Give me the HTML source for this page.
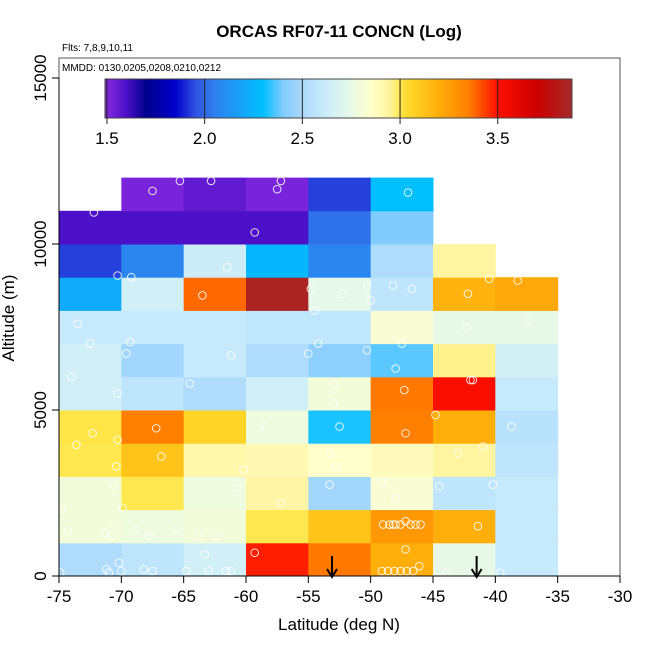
<!DOCTYPE html>
<html><head><meta charset="utf-8"><style>
html,body{margin:0;padding:0;background:#fff;}
svg{display:block;font-family:"Liberation Sans",Arial,sans-serif;}
</style></head><body>
<svg id="chart" width="650" height="650" viewBox="0 0 650 650">
<defs>
<linearGradient id="cbgrad" x1="0" x2="1" y1="0" y2="0"></linearGradient>
</defs>
<text x="339" y="37" text-anchor="middle" font-size="17" font-weight="bold">ORCAS RF07-11 CONCN (Log)</text>
<text x="62" y="51" font-size="10">Flts: 7,8,9,10,11</text>
<g id="cells"></g>
<g id="points"></g>
<g id="arrows"></g>
<rect x="59" y="58" width="561" height="518" fill="none" stroke="#555" stroke-width="1"/>
<text x="62" y="71" font-size="10">MMDD: 0130,0205,0208,0210,0212</text>
<g id="colorbar"></g>
<g id="xaxis"></g>
<g id="yaxis"></g>
<text x="339" y="630" text-anchor="middle" font-size="17">Latitude (deg N)</text>
<text x="0" y="0" transform="translate(14,318) rotate(-90)" text-anchor="middle" font-size="17">Altitude (m)</text>
</svg>
<script>
const latBins = [-75,-70,-65,-60,-55,-50,-45,-40];
const altBins = [0,1000,2000,3000,4000,5000,6000,7000,8000,9000,10000,11000];
const row0 = [2.52,2.57,2.65,3.48,3.36,3.2,2.75,2.6];
const row1 = [2.8,2.78,2.8,3.0,3.12,3.27,3.2,2.6];
const row2 = [2.8,3.0,2.78,2.93,2.48,2.82,2.57,2.6];
const row3 = [3.0,3.12,2.92,2.9,2.85,2.88,2.94,2.57];
const row4 = [3.01,3.35,3.06,2.78,2.32,3.35,3.2,2.55];
const row5 = [2.65,2.57,2.52,2.65,2.8,3.36,3.52,2.6];
const row6 = [2.65,2.48,2.6,2.52,2.43,2.37,2.96,2.66];
const row7 = [2.6,2.6,2.6,2.58,2.58,2.82,2.75,2.75];
const row8 = [2.22,2.65,3.38,3.85,2.74,2.57,3.18,3.22];
const row9 = [1.93,2.07,2.63,2.27,2.07,2.52,2.94,null];
const row10 = [1.6,1.6,1.6,1.6,2.02,2.4,null,null];
const row11 = [null,1.52,1.56,1.52,1.93,2.3,null,null];
const gridValues = [row0,row1,row2,row3,row4,row5,row6,row7,row8,row9,row10,row11];
const pointLat = [-67.5,-65.3,-62.8,-57.2,-57.5,-47,-72.2,-59.3,-70.3,-69.2,-61.5,-40.5,-63.5,-54.8,-52.3,-50.3,-48.2,-46.7,-50,-42.2,-38.2,-54.5,-73.5,-72.5,-69.3,-50.3,-47.5,-42.3,-37.4,-54.2,-69.6,-61.2,-55,-48,-74,-42,-41.8,-70.3,-64.5,-53,-53,-47.3,-72.3,-67.2,-70.3,-58.6,-52.5,-47.2,-44.8,-38.7,-73.6,-66.8,-70.4,-60.2,-53.3,-52.8,-43,-41,-70.6,-60.7,-57.2,-53.3,-49.1,-48,-44.5,-40.2,-69.9,-74.8,-74.3,-71.3,-70.8,-70.5,-68.8,-67.8,-65.5,-63.8,-62.4,-49,-48.5,-48,-47.6,-46.8,-46.4,-46,-47.2,-48.2,-41.4,-59.3,-63.3,-47.2,-49.1,-48.6,-48.1,-47.6,-47.1,-46.6,-46.1,-70.2,-71.2,-71,-70,-68.2,-67.5,-64.8,-63,-61.6,-61.2,-43.9,-39.6,-74.9];
const pointAlt = [11600,11900,11900,11900,11650,11550,10950,10350,9050,9000,9300,8950,8450,8650,8500,8750,8750,8650,8300,8500,8900,8000,7600,7000,7050,6800,7000,7500,7700,7000,6700,6650,6700,6250,6000,5900,5900,5500,5800,5800,5200,5600,4300,4450,4100,4550,4500,4300,4850,4500,3950,3600,3300,3200,3700,3300,3700,3900,2750,2650,2200,2750,2850,2350,2700,2750,2050,2000,1350,1300,1200,1450,1400,1200,1400,1200,1200,1550,1550,1550,1550,1550,1550,1550,1650,1550,1500,700,650,800,150,150,150,150,150,150,300,400,200,100,150,200,150,150,150,150,150,100,100,100];
const arrowLat = [-53.1,-41.5];
const xTicks = [-75,-70,-65,-60,-55,-50,-45,-40,-35,-30];
const yTicks = [0,5000,10000,15000];
const cbTicks = [1.5,2.0,2.5,3.0,3.5];

const NS='http://www.w3.org/2000/svg';
function X(lat){return 59+(lat+75)*561/45;}
function Y(alt){return 576-alt*0.0332;}
const CB0=1.49, CB1=3.88, CBX=105, CBW=467;
function CB(v){return CBX+(v-CB0)*CBW/(CB1-CB0);}
const stops=[[1.49,'#8a2be2'],[1.6,'#4b10c8'],[1.7,'#00008b'],[1.85,'#0000cd'],[1.95,'#2f50e0'],[2.05,'#2f80ee'],[2.3,'#00bfff'],[2.4,'#80ccfd'],[2.5,'#aad8fc'],[2.6,'#c6eafb'],[2.72,'#e0f7ee'],[2.85,'#ffffcc'],[2.95,'#fff39a'],[3.0,'#ffe84f'],[3.05,'#ffd728'],[3.2,'#ffae0a'],[3.35,'#ff7f00'],[3.5,'#ff0f00'],[3.7,'#cc0000'],[3.88,'#a52a2a']];
function hex(c){return [parseInt(c.substr(1,2),16),parseInt(c.substr(3,2),16),parseInt(c.substr(5,2),16)];}
function cmap(v){
  if(v<=stops[0][0])return stops[0][1];
  for(let i=1;i<stops.length;i++){
    if(v<=stops[i][0]){
      const a=hex(stops[i-1][1]),b=hex(stops[i][1]);
      const t=(v-stops[i-1][0])/(stops[i][0]-stops[i-1][0]);
      return 'rgb('+a.map((x,k)=>Math.round(x+(b[k]-x)*t)).join(',')+')';
    }
  }
  return stops[stops.length-1][1];
}
function mk(tag,attrs,parent){const e=document.createElementNS(NS,tag);for(const k in attrs)e.setAttribute(k,attrs[k]);parent.appendChild(e);return e;}

const cells=document.getElementById('cells');
gridValues.forEach((row,r)=>{
  row.forEach((v,c)=>{
    if(v===null)return;
    const x0=X(latBins[c]),x1=X(latBins[c]+5),y1=Y(altBins[r]),y0=Y(altBins[r]+1000);
    const el=mk('rect',{x:x0,y:y0,width:x1-x0+0.5,height:y1-y0+0.5,fill:cmap(v)},cells);
    
    
  });
});
const pts=document.getElementById('points');
pointLat.forEach((lat,i)=>{
  const el=mk('circle',{cx:X(lat),cy:Y(pointAlt[i]),r:3.8,fill:'none',stroke:'#fff','stroke-opacity':0.85,'stroke-width':1},pts);
  
  
});
const arr=document.getElementById('arrows');
arrowLat.forEach(lat=>{
  const x=X(lat);
  const g=mk('g',{},arr);
  
  
  mk('line',{x1:x,y1:556,x2:x,y2:576,stroke:'#000','stroke-width':2},g);
  mk('path',{d:`M${x-5},569 L${x},577 L${x+5},569`,fill:'none',stroke:'#000','stroke-width':2},g);
});
// colorbar
const grad=document.getElementById('cbgrad');
stops.forEach(s=>{mk('stop',{offset:((CB(s[0])-CBX)/CBW*100)+'%','stop-color':s[1]},grad);});
const cb=document.getElementById('colorbar');
const cbr=mk('rect',{x:CBX,y:79,width:CBW,height:39,fill:'url(#cbgrad)',stroke:'#444','stroke-width':1},cb);


cbTicks.forEach(t=>{
  const x=CB(t);
  mk('line',{x1:x,y1:79,x2:x,y2:124,stroke:'#222','stroke-width':1},cb);
  const tx=mk('text',{x:x,y:144,'text-anchor':'middle','font-size':17},cb);
  tx.textContent=t.toFixed(1);
  
  
});
// axes
const xa=document.getElementById('xaxis');
mk('line',{x1:X(-75),y1:576,x2:X(-30),y2:576,stroke:'#000'},xa);
xTicks.forEach(t=>{
  const x=X(t);
  mk('line',{x1:x,y1:576,x2:x,y2:583,stroke:'#000'},xa);
  const tx=mk('text',{x:x,y:602,'text-anchor':'middle','font-size':17},xa);
  tx.textContent=String(t);
  
  
});
const ya=document.getElementById('yaxis');
mk('line',{x1:59,y1:Y(0),x2:59,y2:Y(15000),stroke:'#000'},ya);
yTicks.forEach(t=>{
  const y=Y(t);
  mk('line',{x1:52,y1:y,x2:59,y2:y,stroke:'#000'},ya);
  const tx=mk('text',{x:0,y:0,transform:`translate(46,${y}) rotate(-90)`,'text-anchor':'middle','font-size':17},ya);
  tx.textContent=String(t);
  
  
});
</script>
</body></html>
